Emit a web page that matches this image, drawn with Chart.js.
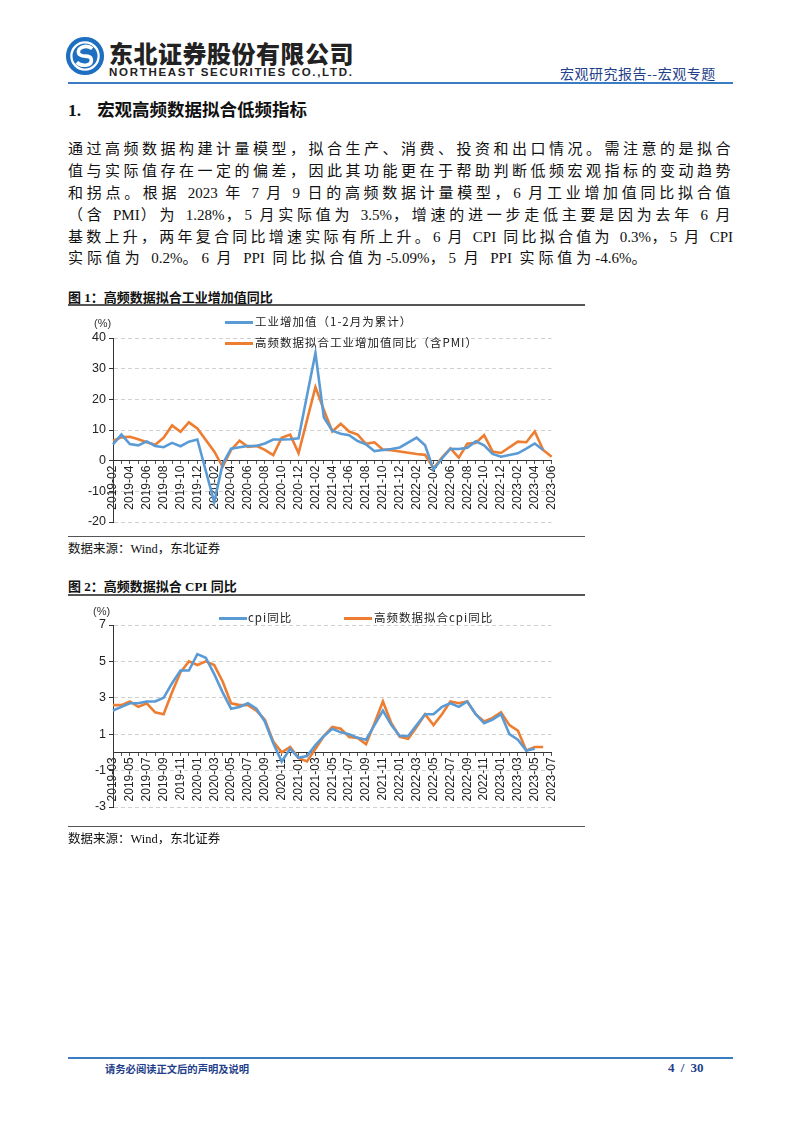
<!DOCTYPE html>
<html>
<head>
<meta charset="utf-8">
<script src="https://cdn.jsdelivr.net/npm/chart.js@4.4.0/dist/chart.umd.min.js"></script>
<style>
body{margin:0;background:#fff;width:802px;height:1133px;position:relative;overflow:hidden;font-family:"Liberation Serif","Noto Sans CJK SC",serif;color:#111;}
.abs{position:absolute;}
.cn{font-family:"Noto Sans CJK SC",sans-serif;}
.para div{height:21.9px;line-height:21.9px;font-size:15px;letter-spacing:2.6px;text-align:justify;text-align-last:justify;white-space:nowrap;}
.para div.last{text-align-last:left;letter-spacing:3.9px;}
.para .l{letter-spacing:0;}
.ftitle{font-size:13px;font-weight:bold;left:68px;}
.rule{left:68px;width:517px;height:1.5px;background:#555;}
.src{left:68px;font-size:12.5px;}
.lg{font-family:"Noto Sans CJK SC",sans-serif;font-size:11.5px;color:#222;letter-spacing:1px;white-space:nowrap;}
.lgline{height:3px;width:28px;}
.unit{font-family:"Liberation Sans",sans-serif;font-size:11px;color:#333;}
</style>
</head>
<body>
<!-- 页眉 -->
<svg class="abs" style="left:65px;top:36px" width="40" height="40" viewBox="0 0 44 44">
  <circle cx="22" cy="22" r="21" fill="#1f6fc1"/>
  <circle cx="22" cy="22" r="15" fill="none" stroke="#fff" stroke-width="2.5"/>
  <path d="M30 14 C24 9 13 12 15 19 C17 25 29 19 29 27 C29 33 18 34 13 29" fill="none" stroke="#fff" stroke-width="4"/>
</svg>
<div class="abs cn" style="left:109px;top:35px;font-size:24px;font-weight:900;color:#222;letter-spacing:0.5px">东北证券股份有限公司</div>
<div class="abs" style="left:109px;top:66px;font-family:'Liberation Sans',sans-serif;font-size:11.5px;font-weight:bold;color:#222;letter-spacing:1.7px">NORTHEAST SECURITIES CO.,LTD.</div>
<div class="abs cn" style="left:560px;top:63px;font-size:14px;color:#1f3f8a;letter-spacing:0.5px">宏观研究报告--宏观专题</div>
<div class="abs" style="left:68px;top:82px;width:665px;height:1.5px;background:#3a7cc4"></div>

<!-- 正文 -->
<div class="abs" style="left:68px;top:96px;font-size:17.5px;font-weight:bold"><span>1.</span><span class="cn" style="margin-left:16px">宏观高频数据拟合低频指标</span></div>
<div class="abs para" style="left:68px;top:139px;width:665px">
  <div>通过高频数据构建计量模型，拟合生产、消费、投资和出口情况。需注意的是拟合</div>
  <div>值与实际值存在一定的偏差，因此其功能更在于帮助判断低频宏观指标的变动趋势</div>
  <div>和拐点。根据 <span class="l">2023</span> 年 <span class="l">7</span> 月 <span class="l">9</span> 日的高频数据计量模型，<span class="l">6</span> 月工业增加值同比拟合值</div>
  <div>（含 <span class="l">PMI</span>）为 <span class="l">1.28%</span>，<span class="l">5</span> 月实际值为 <span class="l">3.5%</span>，增速的进一步走低主要是因为去年 <span class="l">6</span> 月</div>
  <div>基数上升，两年复合同比增速实际有所上升。<span class="l">6</span> 月 <span class="l">CPI</span> 同比拟合值为 <span class="l">0.3%</span>，<span class="l">5</span> 月 <span class="l">CPI</span></div>
  <div class="last">实际值为 <span class="l">0.2%</span>。<span class="l">6</span> 月 <span class="l">PPI</span> 同比拟合值为<span class="l">-5.09%</span>，<span class="l">5</span> 月 <span class="l">PPI</span> 实际值为<span class="l">-4.6%</span>。</div>
</div>

<!-- 图1 -->
<div class="abs ftitle" style="top:287px">图 1：高频数据拟合工业增加值同比</div>
<div class="abs rule" style="top:304px"></div>
<div class="abs" style="left:68px;top:308px;width:500px;height:230px"><canvas id="c1" width="500" height="230"></canvas></div>
<div class="abs unit" style="left:94px;top:317px">(%)</div>
<div class="abs lgline" style="left:225px;top:321px;background:#5b9bd5"></div>
<div class="abs lg" style="left:255px;top:313px">工业增加值（1-2月为累计）</div>
<div class="abs lgline" style="left:225px;top:342px;background:#ed7d31"></div>
<div class="abs lg" style="left:255px;top:334px">高频数据拟合工业增加值同比（含PMI）</div>
<div class="abs rule" style="top:536px;height:1px"></div>
<div class="abs src" style="top:538px"><span class="cn">数据来源：</span>Wind<span class="cn">，东北证券</span></div>

<!-- 图2 -->
<div class="abs ftitle" style="top:576px">图 2：高频数据拟合 CPI 同比</div>
<div class="abs rule" style="top:594px"></div>
<div class="abs" style="left:68px;top:598px;width:500px;height:230px"><canvas id="c2" width="500" height="230"></canvas></div>
<div class="abs unit" style="left:93px;top:605px">(%)</div>
<div class="abs lgline" style="left:219px;top:617px;background:#5b9bd5"></div>
<div class="abs lg" style="left:248px;top:609px">cpi同比</div>
<div class="abs lgline" style="left:344px;top:617px;background:#ed7d31"></div>
<div class="abs lg" style="left:374px;top:609px">高频数据拟合cpi同比</div>
<div class="abs rule" style="top:826px;height:1px"></div>
<div class="abs src" style="top:828px"><span class="cn">数据来源：</span>Wind<span class="cn">，东北证券</span></div>

<!-- 页脚 -->
<div class="abs" style="left:68px;top:1057px;width:665px;height:1.5px;background:#3a7cc4"></div>
<div class="abs cn" style="left:105px;top:1061px;font-size:10.3px;font-weight:bold;color:#1f3f8a">请务必阅读正文后的声明及说明</div>
<div class="abs" style="left:668px;top:1060px;font-size:13px;font-weight:bold;color:#1f3f8a;word-spacing:3px">4 / 30</div>

<script>
// 图1 数据：2019-02 ~ 2023-06，月度
var months1 = [];
for (var y = 2019; y <= 2023; y++) {
  for (var m = 1; m <= 12; m++) {
    if (y == 2019 && m < 2) continue;
    if (y == 2023 && m > 6) continue;
    months1.push(y + '-' + (m < 10 ? '0' + m : m));
  }
}
var ivaActual = [5.3, 8.5, 5.4, 5.0, 6.3, 4.8, 4.4, 5.8, 4.7, 6.2, 6.9,
  null, -13.5, -1.1, 3.9, 4.4, 4.8, 4.8, 5.6, 6.9, 6.9, 7.0, 7.3,
  null, 35.1, 14.1, 9.8, 8.8, 8.3, 6.4, 5.3, 3.1, 3.5, 3.8, 4.3,
  null, 7.5, 5.0, -2.9, 0.7, 3.9, 3.8, 4.2, 6.3, 5.0, 2.2, 1.3,
  null, 2.4, 3.9, 5.6, 3.5, null];
var ivaFit = [6.5, 7.6, 7.8, 7.0, 6.0, 5.2, 7.5, 11.5, 9.4, 12.5, 10.5,
  null, 3.0, -2.0, 3.5, 6.5, 4.5, 4.8, 3.5, 1.8, 7.5, 8.5, 2.5,
  null, 24.0, 16.5, 9.5, 12.0, 9.5, 8.5, 5.5, 6.0, 3.6, 3.4, 3.0,
  null, 2.2, 1.9, -2.5, 1.0, 4.0, 1.0, 5.5, 5.8, 8.3, 3.0, 2.5,
  null, 6.2, 6.0, 9.5, 3.5, 1.28];
var yTicks1 = [-20, -10, 0, 10, 20, 30, 40];

// 图2 数据：2019-03 ~ 2023-07
var months2 = [];
for (var y2 = 2019; y2 <= 2023; y2++) {
  for (var m2 = 1; m2 <= 12; m2++) {
    if (y2 == 2019 && m2 < 3) continue;
    if (y2 == 2023 && m2 > 7) continue;
    months2.push(y2 + '-' + (m2 < 10 ? '0' + m2 : m2));
  }
}
var cpiActual = [2.3, 2.5, 2.7, 2.7, 2.8, 2.8, 3.0, 3.8, 4.5, 4.5,
  5.4, 5.2, 4.3, 3.3, 2.4, 2.5, 2.7, 2.4, 1.7, 0.5, -0.5, 0.2,
  -0.3, -0.2, 0.4, 0.9, 1.3, 1.1, 1.0, 0.8, 0.7, 1.5, 2.3, 1.5,
  0.9, 0.9, 1.5, 2.1, 2.1, 2.5, 2.7, 2.5, 2.8, 2.1, 1.6, 1.8,
  2.1, 1.0, 0.7, 0.1, 0.2, null, null];
var cpiFit = [2.6, 2.6, 2.8, 2.5, 2.7, 2.2, 2.1, 3.3, 4.4, 5.0,
  4.8, 5.0, 4.8, 3.9, 2.7, 2.6, 2.6, 2.3, 1.8, 0.6, 0.0, 0.3,
  -0.3, -0.5, 0.2, 0.9, 1.4, 1.3, 0.85, 0.8, 0.45, 1.6, 2.8, 1.6,
  0.85, 0.75, 1.4, 2.1, 1.5, 2.1, 2.8, 2.7, 2.8, 2.1, 1.7, 1.9,
  2.2, 1.5, 1.2, 0.1, 0.3, 0.3, null];
var yTicks2 = [-3, -1, 1, 3, 5, 7];

var blue = '#5b9bd5', orange = '#ed7d31';

function makeChart(id, labels, s1, s2, yTicks, pad) {
  return new Chart(document.getElementById(id), {
    type: 'line',
    data: {
      labels: labels,
      datasets: [
        {data: s1, borderColor: blue, borderWidth: 2.6, pointRadius: 0, spanGaps: true, tension: 0},
        {data: s2, borderColor: orange, borderWidth: 2.6, pointRadius: 0, spanGaps: true, tension: 0}
      ]
    },
    options: {
      responsive: false,
      animation: false,
      layout: {padding: pad},
      plugins: {legend: {display: false}, tooltip: {enabled: false}},
      scales: {
        x: {
          position: {y: 0},
          grid: {drawOnChartArea: false, drawTicks: true, tickLength: 3, color: '#555'},
          border: {color: '#333', width: 1},
          ticks: {
            autoSkip: false, maxRotation: 90, minRotation: 90, padding: 2,
            color: '#222', font: {family: 'Liberation Sans', size: 12},
            callback: function (v, i) { return i % 2 == 0 ? labels[i] : ''; }
          }
        },
        y: {
          min: yTicks[0], max: yTicks[yTicks.length - 1],
          afterBuildTicks: function (s) { s.ticks = yTicks.map(function (v) { return {value: v}; }); },
          afterFit: function (s) { s.width = 45; },
          grid: {color: '#d0d0d0', tickLength: 4, tickColor: '#333'},
          border: {color: '#333', width: 1, dash: [4, 3]},
          ticks: {color: '#222', padding: 3, font: {family: 'Liberation Sans', size: 12.5}}
        }
      }
    }
  });
}

makeChart('c1', months1, ivaActual, ivaFit, yTicks1, {top: 30, bottom: 16, right: 11, left: 0});
makeChart('c2', months2, cpiActual, cpiFit, yTicks2, {top: 27, bottom: 21, right: 11, left: 0});
</script>
</body>
</html>
